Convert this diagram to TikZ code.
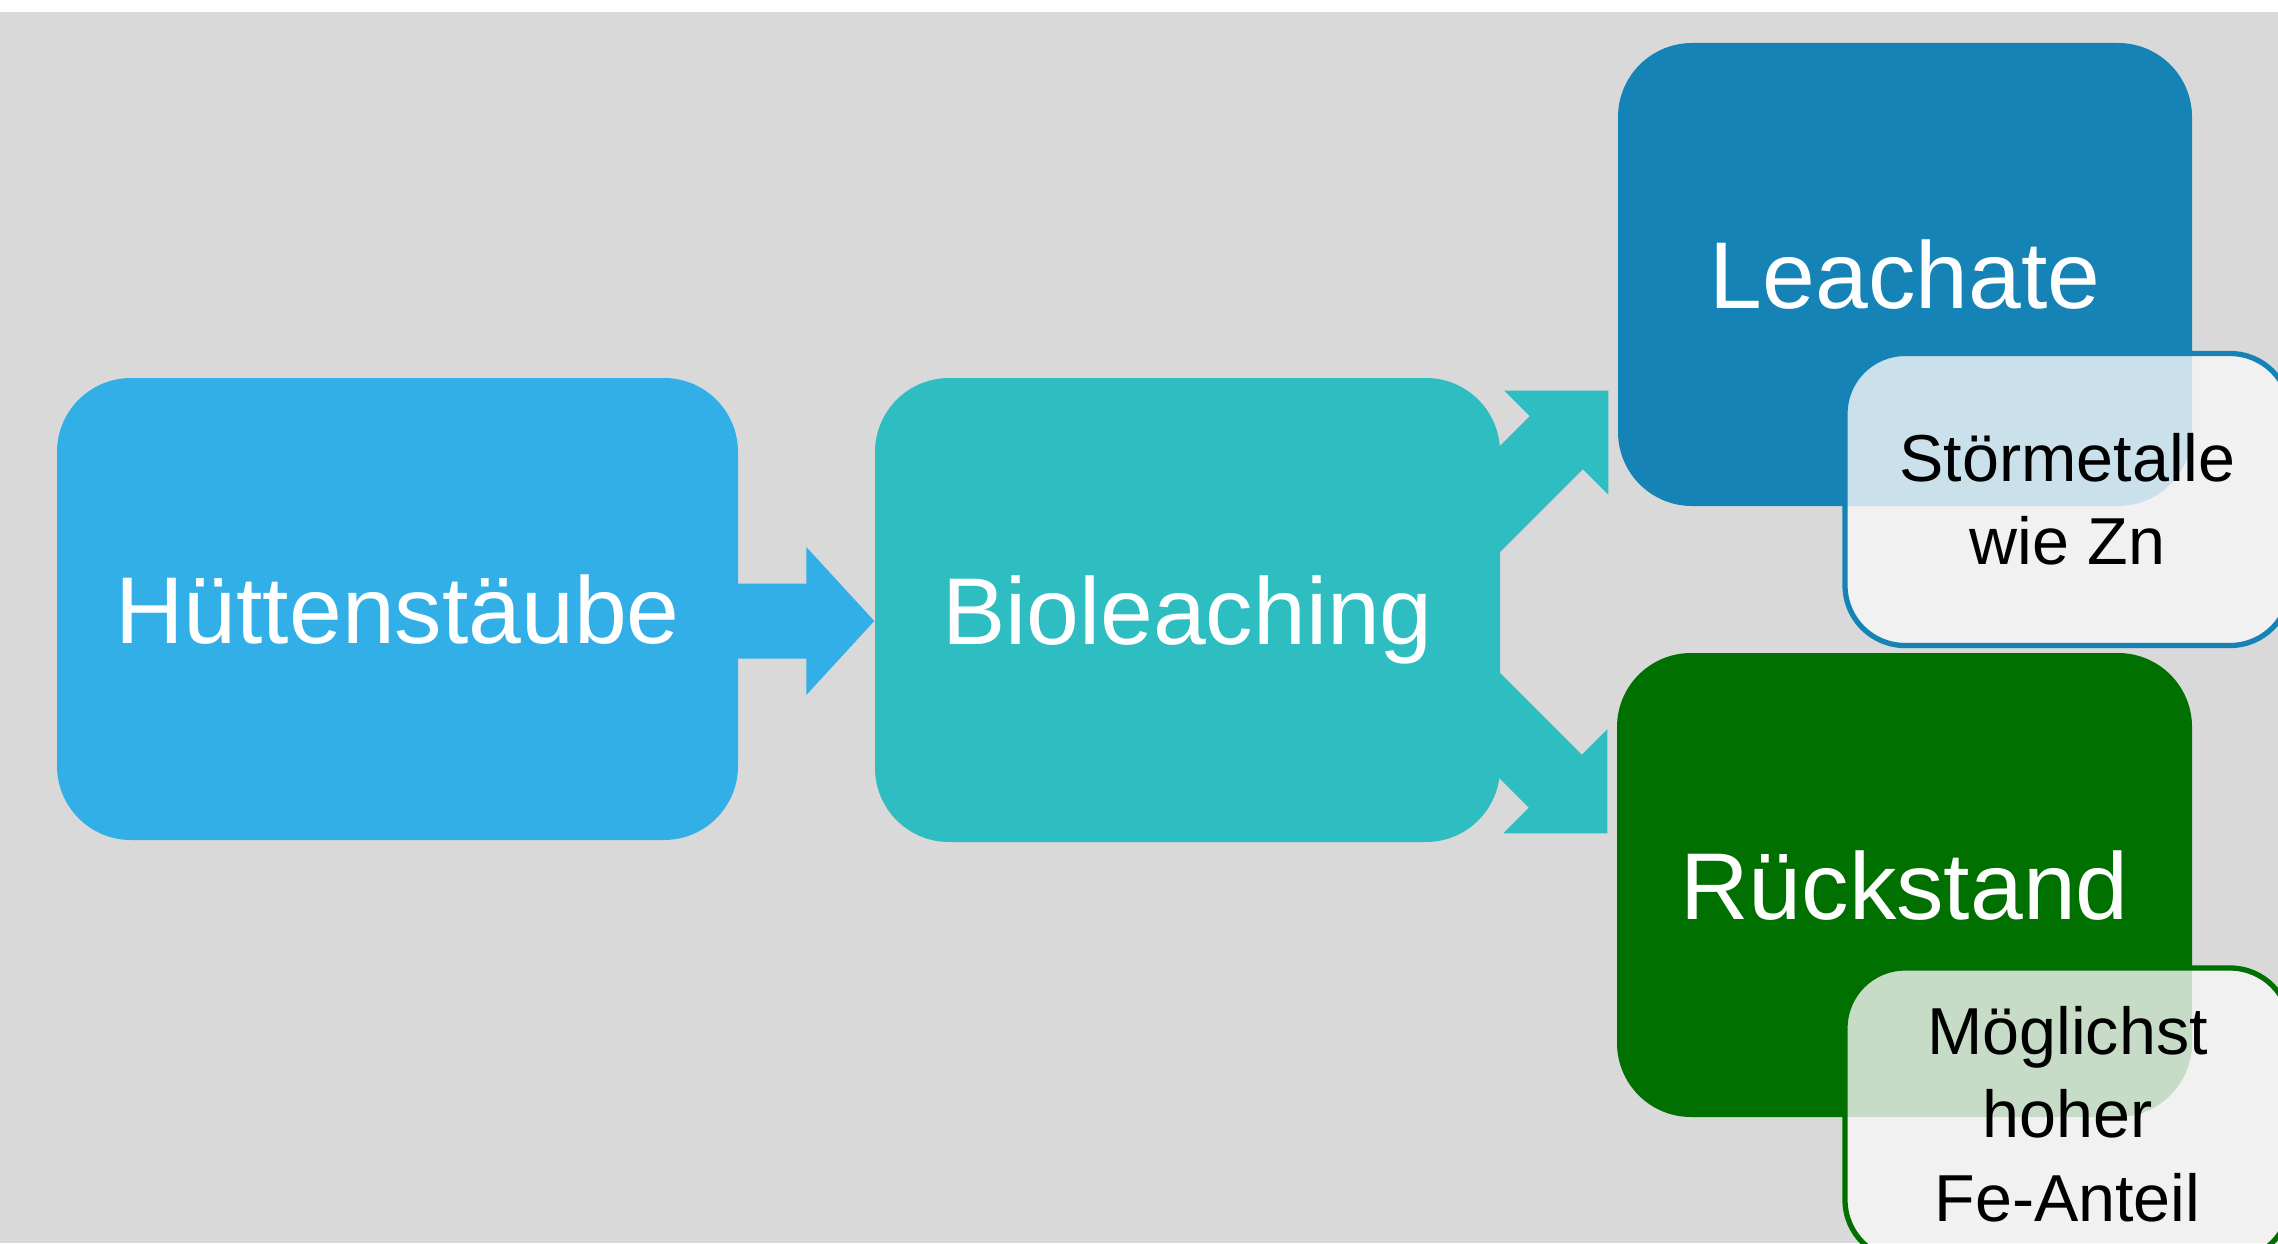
\documentclass[tikz,border=0pt]{standalone}
\usepackage{fontspec}
\setmainfont{Liberation Sans}
\usetikzlibrary{calc,backgrounds}
\definecolor{bggray}{HTML}{D9D9D9}
\definecolor{skyblue}{HTML}{33AFE8}
\definecolor{tealc}{HTML}{2EBDC1}
\definecolor{leachblue}{HTML}{1683B6}
\definecolor{resgreen}{HTML}{007000}
\definecolor{noteface}{HTML}{F8F8F8}

\begin{document}
\begin{tikzpicture}[
  bigbox/.style={rounded corners=0.74cm, inner sep=0pt, text=white,
    font=\fontsize{27}{31}\selectfont, text height=0.68cm, text depth=0pt},
  notebox/.style={rounded corners=0.6cm, line width=1.5pt, fill=noteface,
    fill opacity=0.8, text opacity=1, text=black, inner sep=0pt, align=center,
    minimum width=4.45cm, minimum height=2.92cm, font=\fontsize{18.9}{23.7}\selectfont}
]
\useasboundingbox (0,0) rectangle (22.78,12.43);
% boxes
\node[bigbox, fill=skyblue, minimum width=6.81cm, minimum height=4.62cm] (huette) at (3.975,6.34) {Hüttenstäube};
\node[bigbox, fill=tealc, minimum width=6.25cm, minimum height=4.64cm] (bio) at (11.875,6.33) {Bioleaching};
\node[bigbox, fill=leachblue, minimum width=5.74cm, minimum height=4.63cm] (leach) at (19.05,9.685) {Leachate};
\node[bigbox, fill=resgreen, minimum width=5.75cm, minimum height=4.64cm] (rest) at (19.045,3.58) {Rückstand};
\node[notebox, draw=leachblue] (stoer) at (20.675,7.435) {Störmetalle\\wie Zn};
\node[notebox, draw=resgreen] (fe) at (20.675,1.29) {Möglichst\\hoher\\Fe-Anteil};
% arrows behind the boxes
\coordinate (tipH) at ($(bio.west)+(0,-0.11)$);
\coordinate (tipA) at ($(leach.south west)+(-0.09,1.16)$);
\coordinate (tipB) at ($(rest.north west)+(-0.09,-1.81)$);
\begin{scope}[on background layer]
\fill[white] (0,0) rectangle (22.78,12.43);
\fill[bggray] (0,0) rectangle (22.78,12.31);
\fill[skyblue] (tipH) -- ++(-0.68,0.74) -- ++(0,-0.365) -- ++(-1.1,0) -- ++(0,-0.75)
  -- ++(1.1,0) -- ++(0,-0.365) -- cycle;
\fill[tealc] (tipA) -- ++(-1.04,0) -- ++(-45:0.36) -- ++(225:1.6) -- ++(-45:0.75)
  -- ++(45:1.6) -- ++(-45:0.36) -- cycle;
\fill[tealc] (tipB) -- ++(0,1.04) -- ++(225:0.36) -- ++(135:1.6) -- ++(225:0.75)
  -- ++(-45:1.6) -- ++(225:0.36) -- cycle;
\end{scope}
\end{tikzpicture}
\end{document}
